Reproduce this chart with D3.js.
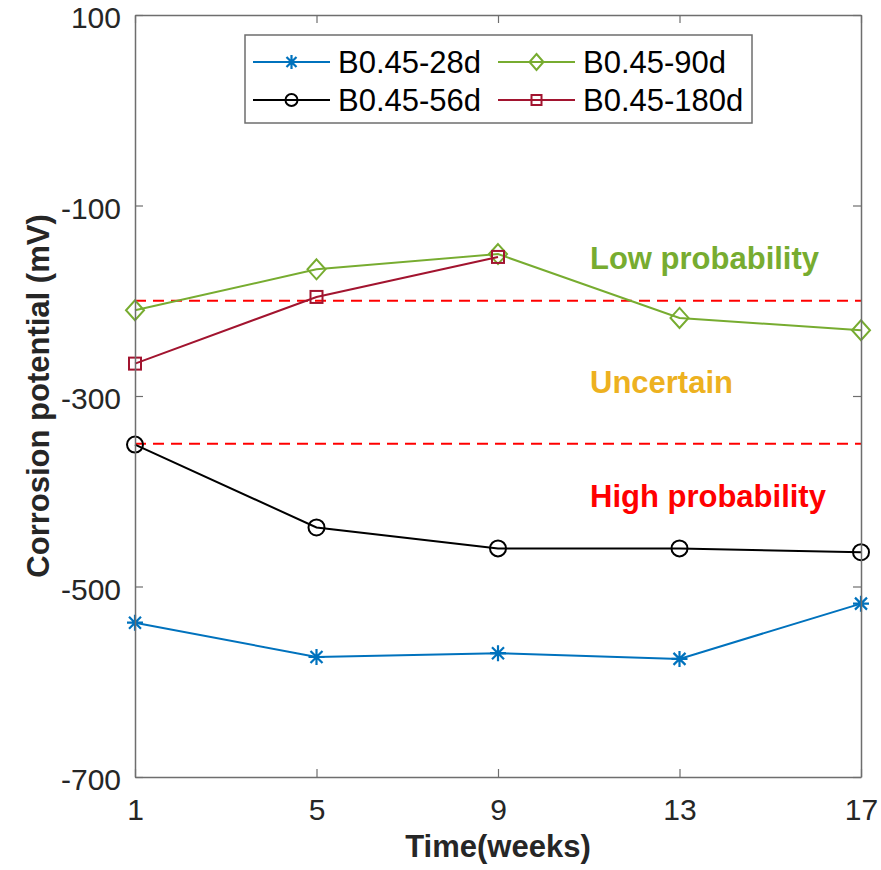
<!DOCTYPE html>
<html>
<head>
<meta charset="utf-8">
<script src="https://cdn.jsdelivr.net/npm/d3@7"></script>
<style>
	body { margin: 0; background: #fff; }
	text { font-family: "Liberation Sans", Arial, sans-serif; }
</style>
</head>
<body>
<div id="chart"></div>
<script>
// data
const weeks = [1, 5, 9, 13, 17];
const s28d = [-538, -574, -570, -576, -518];
const s56d = [-351, -438, -460, -460, -464];
const s90d = [-210, -167, -151, -218, -231];
const s180d = [-266, -196, -154];
const yTicks = [100, -100, -300, -500, -700];
const thresholds = [-200, -350];
const zoneLabels = ["Low probability", "Uncertain", "High probability"];
const zoneValues = [-155, -285, -405];

const series = [
	{name: "B0.45-28d", values: s28d, color: "#0072bd", marker: "asterisk"},
	{name: "B0.45-56d", values: s56d, color: "#000000", marker: "circle"},
	{name: "B0.45-90d", values: s90d, color: "#77ac30", marker: "diamond"},
	{name: "B0.45-180d", values: s180d, color: "#a2142f", marker: "square"}
];
const zoneColors = ["#77ac30", "#edb120", "#ff0000"];

const width = 881, height = 870;
const margin = {top: 15, right: 20, bottom: 93, left: 135};
const axisColor = "#6e6e6e";

const svg = d3.select("#chart").append("svg")
	.attr("width", width)
	.attr("height", height);

const x = d3.scaleLinear().domain([1, 17]).range([margin.left, width - margin.right]);
const y = d3.scaleLinear().domain([-700, 100]).range([height - margin.bottom, margin.top]);

// threshold lines
svg.append("g").selectAll("line")
	.data(thresholds).enter()
	.append("line")
	.attr("x1", x(1)).attr("x2", x(17))
	.attr("y1", d => y(d)).attr("y2", d => y(d))
	.attr("stroke", "#ff0000")
	.attr("stroke-width", 2)
	.attr("stroke-dasharray", "11,7");

// zone labels
svg.append("g").selectAll("text")
	.data(zoneLabels).enter()
	.append("text")
	.attr("x", 590)
	.attr("y", (d, i) => y(zoneValues[i]))
	.attr("dy", "0.35em")
	.attr("font-size", 31)
	.attr("font-weight", "bold")
	.attr("fill", (d, i) => zoneColors[i])
	.text(d => d);

function drawMarker(g, type, color) {
	if (type === "circle") {
		g.append("circle").attr("r", 8).attr("fill", "none").attr("stroke", color).attr("stroke-width", 2);
	} else if (type === "square") {
		g.append("rect").attr("x", -6).attr("y", -6).attr("width", 12).attr("height", 12)
			.attr("fill", "none").attr("stroke", color).attr("stroke-width", 2);
	} else if (type === "diamond") {
		g.append("path").attr("d", "M0,-10L9,0L0,10L-9,0Z")
			.attr("fill", "none").attr("stroke", color).attr("stroke-width", 2);
	} else {
		g.append("path").attr("d", "M0,-8V8M-8,0H8M-6,-6L6,6M-6,6L6,-6")
			.attr("stroke", color).attr("stroke-width", 2.2);
	}
}

const line = d3.line().x(d => x(d[0])).y(d => y(d[1]));

series.forEach(s => {
	const pts = s.values.map((v, i) => [weeks[i], v]);
	svg.append("path")
		.attr("d", line(pts))
		.attr("fill", "none")
		.attr("stroke", s.color)
		.attr("stroke-width", 2);
	pts.forEach(p => {
		const g = svg.append("g").attr("transform", `translate(${x(p[0])},${y(p[1])})`);
		drawMarker(g, s.marker, s.color);
	});
});

// axes (box with inward ticks)
const plain = d => String(d);
const axisLeft = d3.axisLeft(y).tickValues(yTicks).tickSize(-8).tickSizeOuter(0).tickPadding(14).tickFormat(plain);
const axisRight = d3.axisRight(y).tickValues(yTicks).tickSize(-8).tickSizeOuter(0).tickFormat("");
const axisBottom = d3.axisBottom(x).tickValues(weeks).tickSize(-8).tickSizeOuter(0).tickPadding(22).tickFormat(plain);
const axisTop = d3.axisTop(x).tickValues(weeks).tickSize(-8).tickSizeOuter(0).tickFormat("");

function styleAxis(g) {
	g.select(".domain").attr("stroke", axisColor).attr("stroke-width", 1.5);
	g.selectAll(".tick line").attr("stroke", axisColor).attr("stroke-width", 1.2);
	g.selectAll(".tick text").attr("fill", "#262626").attr("font-size", 30)
		.attr("font-family", "'Liberation Sans', Arial, sans-serif");
}

svg.append("g").attr("transform", `translate(${margin.left},0)`).call(axisLeft).call(styleAxis)
	.selectAll(".tick text").attr("dy", "0.42em");
svg.append("g").attr("transform", `translate(${width - margin.right},0)`).call(axisRight).call(styleAxis);
svg.append("g").attr("transform", `translate(0,${height - margin.bottom})`).call(axisBottom).call(styleAxis);
svg.append("g").attr("transform", `translate(0,${margin.top})`).call(axisTop).call(styleAxis);

// axis titles
svg.append("text")
	.attr("x", (x(1) + x(17)) / 2)
	.attr("y", 857)
	.attr("text-anchor", "middle")
	.attr("font-size", 31)
	.attr("font-weight", "bold")
	.attr("fill", "#262626")
	.text("Time(weeks)");

svg.append("text")
	.attr("transform", `translate(38,${(y(100) + y(-700)) / 2}) rotate(-90)`)
	.attr("dy", "0.35em")
	.attr("text-anchor", "middle")
	.attr("font-size", 31)
	.attr("font-weight", "bold")
	.attr("fill", "#262626")
	.text("Corrosion potential (mV)");

// legend
const legend = svg.append("g");
legend.append("rect")
	.attr("x", 245).attr("y", 35)
	.attr("width", 507).attr("height", 88)
	.attr("fill", "#fff")
	.attr("stroke", axisColor)
	.attr("stroke-width", 1.5);

const legendPos = [[253, 62], [253, 100], [498, 62], [498, 100]];
series.forEach((s, i) => {
	const [lx, ly] = legendPos[i];
	const g = legend.append("g").attr("transform", `translate(${lx},${ly})`);
	g.append("line").attr("x1", 0).attr("x2", 77).attr("stroke", s.color).attr("stroke-width", 2);
	const m = g.append("g").attr("transform", "translate(38.5,0)");
	drawMarker(m, s.marker, s.color);
	if (s.marker === "circle") m.select("circle").attr("r", 6);
	if (s.marker === "square") m.select("rect").attr("x", -5).attr("y", -5).attr("width", 10).attr("height", 10);
	if (s.marker === "diamond") m.select("path").attr("d", "M0,-8L7,0L0,8L-7,0Z");
	if (s.marker === "asterisk") m.select("path").attr("d", "M0,-7V7M-7,0H7M-5,-5L5,5M-5,5L5,-5");
	g.append("text")
		.attr("x", 85)
		.attr("dy", "0.35em")
		.attr("font-size", 31)
		.attr("fill", "#000")
		.text(s.name);
});
</script>
</body>
</html>
